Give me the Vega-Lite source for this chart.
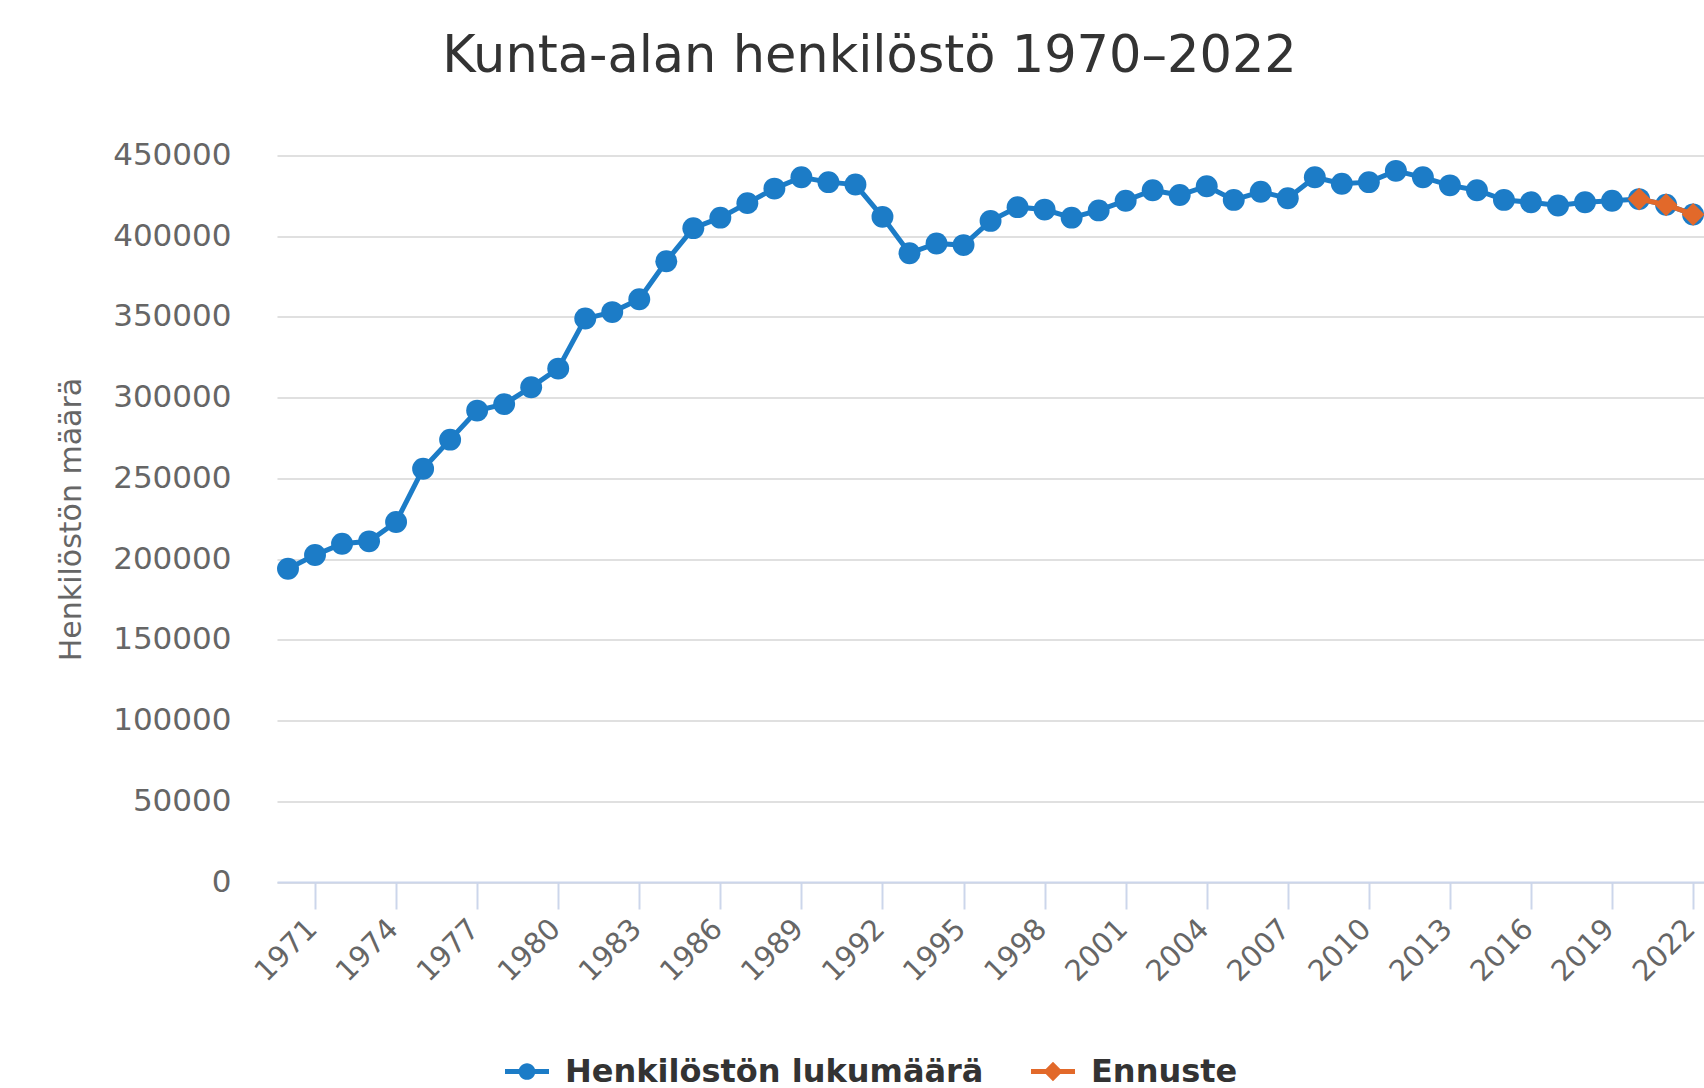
{
  "$schema": "https://vega.github.io/schema/vega-lite/v6.json",
  "width": 1427,
  "height": 726.5,
  "autosize": {"type": "none"},
  "padding": {"left": 277, "top": 155.5, "right": 0, "bottom": 206},
  "background": "white",
  "config": {"view": {"stroke": null}, "font": "DejaVu Sans"},
  "title": {
    "text": "Kunta-alan henkilöstö 1970–2022",
    "font": "DejaVu Sans",
    "fontSize": 51,
    "fontWeight": "normal",
    "color": "#333333",
    "anchor": "middle",
    "frame": "group",
    "dx": -121,
    "offset": 17,
    "baseline": "alphabetic"
  },
  "data": {
    "values": [
      {"year": 1970, "value": 194000, "series": "Henkilöstön lukumäärä"},
      {"year": 1971, "value": 202500, "series": "Henkilöstön lukumäärä"},
      {"year": 1972, "value": 209500, "series": "Henkilöstön lukumäärä"},
      {"year": 1973, "value": 211000, "series": "Henkilöstön lukumäärä"},
      {"year": 1974, "value": 223000, "series": "Henkilöstön lukumäärä"},
      {"year": 1975, "value": 256000, "series": "Henkilöstön lukumäärä"},
      {"year": 1976, "value": 274000, "series": "Henkilöstön lukumäärä"},
      {"year": 1977, "value": 292000, "series": "Henkilöstön lukumäärä"},
      {"year": 1978, "value": 296000, "series": "Henkilöstön lukumäärä"},
      {"year": 1979, "value": 306500, "series": "Henkilöstön lukumäärä"},
      {"year": 1980, "value": 318000, "series": "Henkilöstön lukumäärä"},
      {"year": 1981, "value": 349000, "series": "Henkilöstön lukumäärä"},
      {"year": 1982, "value": 353000, "series": "Henkilöstön lukumäärä"},
      {"year": 1983, "value": 361000, "series": "Henkilöstön lukumäärä"},
      {"year": 1984, "value": 384500, "series": "Henkilöstön lukumäärä"},
      {"year": 1985, "value": 405000, "series": "Henkilöstön lukumäärä"},
      {"year": 1986, "value": 411500, "series": "Henkilöstön lukumäärä"},
      {"year": 1987, "value": 420500, "series": "Henkilöstön lukumäärä"},
      {"year": 1988, "value": 429500, "series": "Henkilöstön lukumäärä"},
      {"year": 1989, "value": 436500, "series": "Henkilöstön lukumäärä"},
      {"year": 1990, "value": 433500, "series": "Henkilöstön lukumäärä"},
      {"year": 1991, "value": 432000, "series": "Henkilöstön lukumäärä"},
      {"year": 1992, "value": 412000, "series": "Henkilöstön lukumäärä"},
      {"year": 1993, "value": 389500, "series": "Henkilöstön lukumäärä"},
      {"year": 1994, "value": 395500, "series": "Henkilöstön lukumäärä"},
      {"year": 1995, "value": 394500, "series": "Henkilöstön lukumäärä"},
      {"year": 1996, "value": 409500, "series": "Henkilöstön lukumäärä"},
      {"year": 1997, "value": 418000, "series": "Henkilöstön lukumäärä"},
      {"year": 1998, "value": 416500, "series": "Henkilöstön lukumäärä"},
      {"year": 1999, "value": 411500, "series": "Henkilöstön lukumäärä"},
      {"year": 2000, "value": 416000, "series": "Henkilöstön lukumäärä"},
      {"year": 2001, "value": 422000, "series": "Henkilöstön lukumäärä"},
      {"year": 2002, "value": 428500, "series": "Henkilöstön lukumäärä"},
      {"year": 2003, "value": 425500, "series": "Henkilöstön lukumäärä"},
      {"year": 2004, "value": 431000, "series": "Henkilöstön lukumäärä"},
      {"year": 2005, "value": 422500, "series": "Henkilöstön lukumäärä"},
      {"year": 2006, "value": 427500, "series": "Henkilöstön lukumäärä"},
      {"year": 2007, "value": 423500, "series": "Henkilöstön lukumäärä"},
      {"year": 2008, "value": 436500, "series": "Henkilöstön lukumäärä"},
      {"year": 2009, "value": 432500, "series": "Henkilöstön lukumäärä"},
      {"year": 2010, "value": 433500, "series": "Henkilöstön lukumäärä"},
      {"year": 2011, "value": 440500, "series": "Henkilöstön lukumäärä"},
      {"year": 2012, "value": 436500, "series": "Henkilöstön lukumäärä"},
      {"year": 2013, "value": 431500, "series": "Henkilöstön lukumäärä"},
      {"year": 2014, "value": 428500, "series": "Henkilöstön lukumäärä"},
      {"year": 2015, "value": 422500, "series": "Henkilöstön lukumäärä"},
      {"year": 2016, "value": 421000, "series": "Henkilöstön lukumäärä"},
      {"year": 2017, "value": 419000, "series": "Henkilöstön lukumäärä"},
      {"year": 2018, "value": 421000, "series": "Henkilöstön lukumäärä"},
      {"year": 2019, "value": 422000, "series": "Henkilöstön lukumäärä"},
      {"year": 2020, "value": 423000, "series": "Henkilöstön lukumäärä"},
      {"year": 2021, "value": 419500, "series": "Henkilöstön lukumäärä"},
      {"year": 2022, "value": 413500, "series": "Henkilöstön lukumäärä"},
      {"year": 2020, "value": 423000, "series": "Ennuste"},
      {"year": 2021, "value": 419500, "series": "Ennuste"},
      {"year": 2022, "value": 413500, "series": "Ennuste"}
    ]
  },
  "encoding": {
    "x": {
      "field": "year",
      "type": "quantitative",
      "scale": {"domain": [1969.593, 2022.403], "nice": false, "zero": false},
      "axis": {
        "title": null,
        "values": [1971, 1974, 1977, 1980, 1983, 1986, 1989, 1992, 1995, 1998, 2001, 2004, 2007, 2010, 2013, 2016, 2019, 2022],
        "format": "d",
        "labelAngle": -45,
        "labelFont": "DejaVu Sans",
        "labelFontSize": 29,
        "labelColor": "#666666",
        "grid": false,
        "domainColor": "#ccd6eb",
        "domainWidth": 2,
        "tickColor": "#ccd6eb",
        "tickWidth": 2,
        "tickSize": 27,
        "labelPadding": 5,
        "labelOffset": -13,
        "labelOverlap": false
      }
    },
    "y": {
      "field": "value",
      "type": "quantitative",
      "scale": {"domain": [0, 450000], "nice": false},
      "axis": {
        "title": "Henkilöstön määrä",
        "values": [0, 50000, 100000, 150000, 200000, 250000, 300000, 350000, 400000, 450000],
        "format": "d",
        "labelFont": "DejaVu Sans",
        "labelFontSize": 31,
        "labelColor": "#666666",
        "ticks": false,
        "tickSize": 0,
        "domain": false,
        "labelPadding": 46,
        "gridColor": "#e0e0e0",
        "gridWidth": 2,
        "titleFont": "DejaVu Sans",
        "titleFontSize": 30,
        "titleFontWeight": "normal",
        "titleColor": "#666666",
        "titleX": -206,
        "titleY": 363.5,
        "titleAngle": -90,
        "titleAlign": "center",
        "titleBaseline": "middle"
      }
    },
    "color": {
      "field": "series",
      "type": "nominal",
      "scale": {"domain": ["Henkilöstön lukumäärä", "Ennuste"], "range": ["#1c7cc7", "#e2692a"]},
      "legend": {
        "title": null,
        "orient": "none",
        "legendX": 228,
        "legendY": 894,
        "direction": "horizontal",
        "labelFont": "DejaVu Sans",
        "labelFontSize": 32,
        "labelFontWeight": "bold",
        "labelColor": "#333333",
        "labelLimit": 800,
        "labelOffset": 16,
        "columnPadding": 47,
        "symbolSize": 1936,
        "padding": 0,
        "encode": {
          "symbols": {
            "update": {
              "shape": [
                {"test": "datum.value === 'Ennuste'", "value": "M-1,-0.11H1V0.11H-1Z M0,-0.44L0.44,0L0,0.44L-0.44,0Z"},
                {"value": "M-1,-0.11H1V0.11H-1Z M0.38,0A0.38,0.38 0 1,1 -0.38,0A0.38,0.38 0 1,1 0.38,0Z"}
              ],
              "fill": {"scale": "color", "field": "value"},
              "strokeWidth": {"value": 0},
              "opacity": {"value": 1}
            }
          }
        }
      }
    }
  },
  "layer": [
    {
      "transform": [{"filter": "datum.series === 'Henkilöstön lukumäärä'"}],
      "mark": {"type": "line", "strokeWidth": 5}
    },
    {
      "transform": [{"filter": "datum.series === 'Henkilöstön lukumäärä'"}],
      "mark": {"type": "point", "shape": "circle", "filled": true, "size": 480, "opacity": 1}
    },
    {
      "transform": [{"filter": "datum.series === 'Ennuste'"}],
      "mark": {"type": "line", "strokeWidth": 5}
    },
    {
      "transform": [{"filter": "datum.series === 'Ennuste'"}],
      "mark": {"type": "point", "shape": "diamond", "filled": true, "size": 520, "opacity": 1}
    }
  ]
}
